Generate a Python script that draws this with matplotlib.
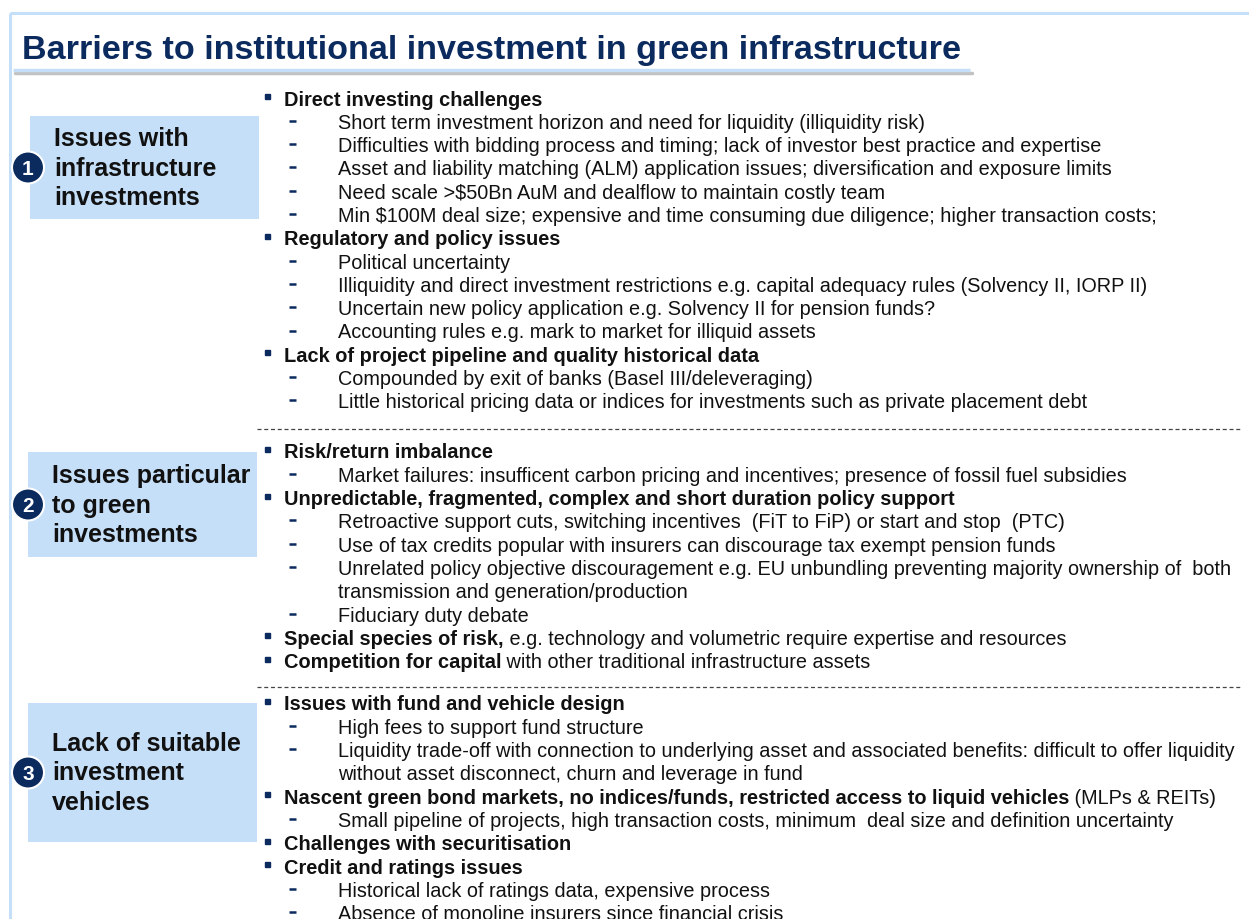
import matplotlib.pyplot as plt
from matplotlib.patches import Rectangle, Circle

plt.rcParams['font.family'] = ['Liberation Sans', 'DejaVu Sans']

NAVY = '#0B2A5E'
LIGHT = '#C6DFF8'
TEXT = '#111111'

title = 'Barriers to institutional investment in green infrastructure'

# (kind, bold part, normal part) ; kind: 'b' bullet, 'd' dash, 'c' continuation
group1 = [
    ('b', 'Direct investing challenges', ''),
    ('d', '', 'Short term investment horizon and need for liquidity (illiquidity risk)'),
    ('d', '', 'Difficulties with bidding process and timing; lack of investor best practice and expertise'),
    ('d', '', 'Asset and liability matching (ALM) application issues; diversification and exposure limits'),
    ('d', '', 'Need scale >$50Bn AuM and dealflow to maintain costly team'),
    ('d', '', 'Min $100M deal size; expensive and time consuming due diligence; higher transaction costs;'),
    ('b', 'Regulatory and policy issues', ''),
    ('d', '', 'Political uncertainty'),
    ('d', '', 'Illiquidity and direct investment restrictions e.g. capital adequacy rules (Solvency II, IORP II)'),
    ('d', '', 'Uncertain new policy application e.g. Solvency II for pension funds?'),
    ('d', '', 'Accounting rules e.g. mark to market for illiquid assets'),
    ('b', 'Lack of project pipeline and quality historical data', ''),
    ('d', '', 'Compounded by exit of banks (Basel III/deleveraging)'),
    ('d', '', 'Little historical pricing data or indices for investments such as private placement debt'),
]
group2 = [
    ('b', 'Risk/return imbalance', ''),
    ('d', '', 'Market failures: insufficent carbon pricing and incentives; presence of fossil fuel subsidies'),
    ('b', 'Unpredictable, fragmented, complex and short duration policy support', ''),
    ('d', '', 'Retroactive support cuts, switching incentives  (FiT to FiP) or start and stop  (PTC)'),
    ('d', '', 'Use of tax credits popular with insurers can discourage tax exempt pension funds'),
    ('d', '', 'Unrelated policy objective discouragement e.g. EU unbundling preventing majority ownership of  both'),
    ('c', '', 'transmission and generation/production'),
    ('d', '', 'Fiduciary duty debate'),
    ('b', 'Special species of risk,', ' e.g. technology and volumetric require expertise and resources'),
    ('b', 'Competition for capital', ' with other traditional infrastructure assets'),
]
group3 = [
    ('b', 'Issues with fund and vehicle design', ''),
    ('d', '', 'High fees to support fund structure'),
    ('d', '', 'Liquidity trade-off with connection to underlying asset and associated benefits: difficult to offer liquidity'),
    ('c', '', 'without asset disconnect, churn and leverage in fund'),
    ('b', 'Nascent green bond markets, no indices/funds, restricted access to liquid vehicles', ' (MLPs & REITs)'),
    ('d', '', 'Small pipeline of projects, high transaction costs, minimum  deal size and definition uncertainty'),
    ('b', 'Challenges with securitisation', ''),
    ('b', 'Credit and ratings issues', ''),
    ('d', '', 'Historical lack of ratings data, expensive process'),
    ('d', '', 'Absence of monoline insurers since financial crisis'),
]

box_labels = ['Issues with\ninfrastructure\ninvestments',
              'Issues particular\nto green\ninvestments',
              'Lack of suitable\ninvestment\nvehicles']

groups = [group1, group2, group3]
group_top = [100, 453, 705]          # y of first line in each group
boxes = [(30, 117, 229, 103), (28, 453, 229, 105), (28, 704, 229, 139)]
dashed_y = [430, 688]
step = 23.3

fig = plt.figure(figsize=(12.49, 9.2), dpi=100)
ax = fig.add_axes([0, 0, 1, 1])
ax.set_xlim(0, 1249)
ax.set_ylim(920, 0)
ax.axis('off')

# frame
ax.plot([10, 1249], [14, 14], color=LIGHT, lw=2.2, solid_capstyle='butt')
ax.plot([10, 10], [14, 920], color=LIGHT, lw=2.2, solid_capstyle='butt')

# title + underline
ax.text(22, 50, title, fontsize=24.6, fontweight='bold', color=NAVY, va='center', ha='left')
ax.plot([15, 972], [74, 74], color='#9a9a9a', lw=2.5, alpha=0.6, solid_capstyle='round')
ax.plot([13, 970], [71, 71], color=LIGHT, lw=2.5, solid_capstyle='butt')

for y in dashed_y:
    ax.plot([257, 1240], [y, y], color='#444444', lw=0.9, ls=(0, (3.2, 2.2)))

for i, (grp, top) in enumerate(zip(groups, group_top)):
    bx, by, bw, bh = boxes[i]
    ax.add_patch(Rectangle((bx, by), bw, bh, facecolor=LIGHT, edgecolor='none'))
    cy = by + bh / 2
    ax.add_patch(Circle((28, cy), 16, facecolor=NAVY, edgecolor='white', lw=1.5, zorder=3))
    ax.text(28, cy + 1, str(i + 1), color='white', fontsize=15, fontweight='bold',
            ha='center', va='center', zorder=4)
    ax.text(bx + 24, cy, box_labels[i], fontsize=18, fontweight='bold', color=TEXT,
            ha='left', va='center', linespacing=1.3)

    for j, (kind, bold, normal) in enumerate(grp):
        y = top + j * step
        if kind == 'b':
            ax.plot(267, y - 3, marker='s', ms=3.6, color=NAVY, mec=NAVY)
            t = ax.text(284, y, bold, fontsize=14.4, fontweight='bold', color=TEXT,
                        ha='left', va='center')
            if normal:
                ax.annotate(normal, xy=(1, y), xycoords=(t, 'data'), fontsize=14.3,
                            color=TEXT, ha='left', va='center')
        else:
            if kind == 'd':
                ax.plot([289, 296], [y - 1.5, y - 1.5], color=NAVY, lw=1.8,
                        solid_capstyle='butt')
            ax.text(338, y, normal, fontsize=14.3, color=TEXT, ha='left', va='center')

fig.savefig('out.png', dpi=100)
